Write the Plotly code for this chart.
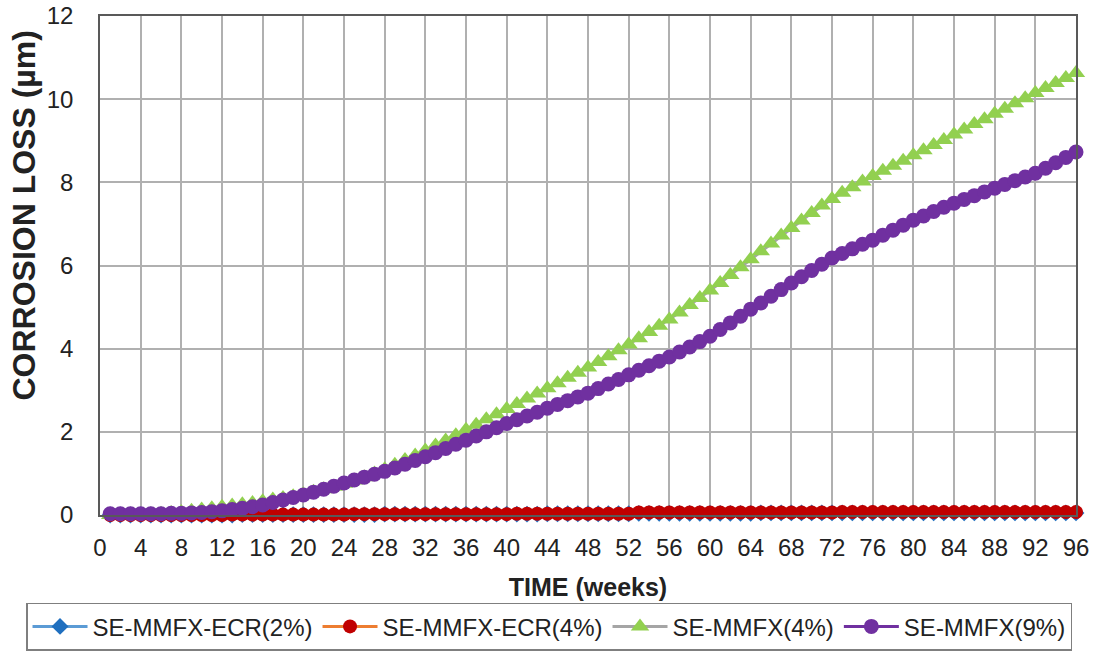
import plotly.graph_objects as go

weeks = list(range(1, 97))

ecr_2 = [0.00, 0.00, 0.00, 0.00, 0.00, 0.00, 0.00, 0.00, 0.00, 0.00, 0.00, 0.00,
         0.00, 0.01, 0.01, 0.01, 0.01, 0.01, 0.01, 0.01, 0.01, 0.01, 0.01, 0.01,
         0.01, 0.01, 0.01, 0.02, 0.02, 0.02, 0.02, 0.02, 0.02, 0.02, 0.02, 0.02,
         0.02, 0.02, 0.02, 0.02, 0.02, 0.02, 0.02, 0.03, 0.03, 0.03, 0.03, 0.03,
         0.03, 0.03, 0.03, 0.03, 0.04, 0.04, 0.04, 0.04, 0.04, 0.04, 0.04, 0.04,
         0.04, 0.04, 0.04, 0.04, 0.05, 0.05, 0.05, 0.05, 0.05, 0.05, 0.05, 0.05,
         0.05, 0.05, 0.05, 0.05, 0.05, 0.05, 0.05, 0.05, 0.05, 0.05, 0.05, 0.05,
         0.05, 0.05, 0.05, 0.05, 0.05, 0.05, 0.05, 0.05, 0.05, 0.05, 0.05, 0.05]

ecr_4 = [0.00, 0.00, 0.00, 0.00, 0.00, 0.00, 0.00, 0.00, 0.00, 0.00, 0.00, 0.00,
         0.01, 0.01, 0.01, 0.01, 0.01, 0.01, 0.01, 0.01, 0.01, 0.01, 0.01, 0.01,
         0.02, 0.02, 0.02, 0.02, 0.02, 0.02, 0.02, 0.02, 0.02, 0.02, 0.02, 0.02,
         0.02, 0.02, 0.02, 0.02, 0.03, 0.03, 0.03, 0.03, 0.03, 0.03, 0.03, 0.03,
         0.03, 0.03, 0.03, 0.03, 0.06, 0.06, 0.06, 0.06, 0.06, 0.06, 0.06, 0.06,
         0.06, 0.06, 0.06, 0.06, 0.06, 0.06, 0.06, 0.06, 0.06, 0.06, 0.06, 0.06,
         0.07, 0.07, 0.07, 0.07, 0.07, 0.07, 0.07, 0.07, 0.07, 0.07, 0.07, 0.07,
         0.07, 0.07, 0.07, 0.07, 0.07, 0.07, 0.07, 0.07, 0.07, 0.07, 0.07, 0.07]

mmfx_4 = [0.00, 0.00, 0.01, 0.01, 0.02, 0.03, 0.05, 0.07,
          0.10, 0.13, 0.16, 0.20, 0.23, 0.26, 0.29, 0.33,
          0.37, 0.41, 0.45, 0.50, 0.56, 0.62, 0.68, 0.75,
          0.83, 0.91, 1.00, 1.10, 1.21, 1.32, 1.43, 1.55,
          1.67, 1.79, 1.92, 2.05, 2.17, 2.30, 2.42, 2.55,
          2.67, 2.80, 2.92, 3.05, 3.17, 3.30, 3.42, 3.55,
          3.68, 3.82, 3.96, 4.10, 4.25, 4.40, 4.55, 4.70,
          4.87, 5.05, 5.22, 5.40, 5.58, 5.77, 5.96, 6.15,
          6.34, 6.53, 6.72, 6.90, 7.08, 7.26, 7.44, 7.60,
          7.75, 7.88, 8.02, 8.15, 8.28, 8.40, 8.52, 8.65,
          8.77, 8.90, 9.02, 9.15, 9.27, 9.40, 9.52, 9.65,
          9.77, 9.90, 10.02, 10.15, 10.27, 10.39, 10.51, 10.63]

mmfx_9 = [0.03, 0.03, 0.03, 0.03, 0.03, 0.03, 0.04, 0.04, 0.05, 0.06,
          0.08, 0.10, 0.13, 0.16, 0.20, 0.24,
          0.30, 0.36, 0.42, 0.48, 0.55, 0.62, 0.69, 0.77,
          0.84, 0.91, 0.98, 1.05, 1.13, 1.22, 1.31, 1.40,
          1.50, 1.60, 1.70, 1.80, 1.90, 2.00, 2.10, 2.20,
          2.29, 2.38, 2.47, 2.57, 2.66, 2.75, 2.84, 2.93,
          3.04, 3.15, 3.26, 3.37, 3.48, 3.59, 3.70, 3.80,
          3.92, 4.04, 4.17, 4.30, 4.46, 4.62, 4.78, 4.95,
          5.10, 5.26, 5.42, 5.58, 5.73, 5.88, 6.03, 6.18,
          6.29, 6.40, 6.51, 6.61, 6.73, 6.85, 6.97, 7.09,
          7.19, 7.30, 7.40, 7.50, 7.59, 7.68, 7.77, 7.86,
          7.95, 8.04, 8.13, 8.22, 8.34, 8.47, 8.60, 8.73]

series = [
    ("SE-MMFX-ECR(2%)", ecr_2, "#5B9BD5", "#1F6FBF", "diamond", 13),
    ("SE-MMFX-ECR(4%)", ecr_4, "#ED7D31", "#C00000", "circle", 14),
    ("SE-MMFX(4%)", mmfx_4, "#A5A5A5", "#92D050", "triangle-up", 16),
    ("SE-MMFX(9%)", mmfx_9, "#7030A0", "#7030A0", "circle", 15),
]

fig = go.Figure()
for name, vals, line_col, mark_col, sym, size in series:
    fig.add_trace(go.Scatter(
        x=weeks, y=vals, name=name, mode="lines+markers",
        line=dict(color=line_col, width=3),
        marker=dict(color=mark_col, symbol=sym, size=size),
        cliponaxis=False,
    ))

font = "Liberation Sans, Arial, sans-serif"
fig.update_layout(
    width=1098, height=670,
    margin=dict(l=100, r=22, t=16, b=155),
    paper_bgcolor="white", plot_bgcolor="white",
    font=dict(family=font, size=24, color="#222222"),
    showlegend=True,
    legend=dict(orientation="h", x=-0.0758, xanchor="left", y=-0.176, yanchor="top",
                bordercolor="#7F7F7F", borderwidth=1.5, font=dict(size=24),
                itemwidth=55),
)
fig.update_xaxes(range=[0, 96], tick0=0, dtick=4, showgrid=True,
                 gridcolor="#B0B0B0", gridwidth=1.5, showline=True,
                 linecolor="#595959", linewidth=1.5, mirror=True, ticks="",
                 zeroline=False, ticklabelstandoff=10, automargin=False,
                 title=dict(text="<b>TIME (weeks)</b>", standoff=19,
                            font=dict(size=25)))
fig.update_yaxes(range=[0, 12], dtick=2, showgrid=True, gridcolor="#B0B0B0",
                 gridwidth=1.5, showline=True, linecolor="#595959",
                 linewidth=1.5, mirror=True, ticks="", zeroline=False,
                 ticklabelstandoff=20, automargin=False)
fig.add_annotation(text="<b>CORROSION LOSS (µm)</b>", textangle=-90,
                   xref="paper", yref="paper", x=-0.0984, y=0.6,
                   xanchor="left", yanchor="middle", showarrow=False,
                   font=dict(size=32))

# page body has a default 8px margin; drop it so the figure sits at the corner
fig.write_html("out.html", config={"displayModeBar": False},
               post_script="document.body.style.margin='0px';")
